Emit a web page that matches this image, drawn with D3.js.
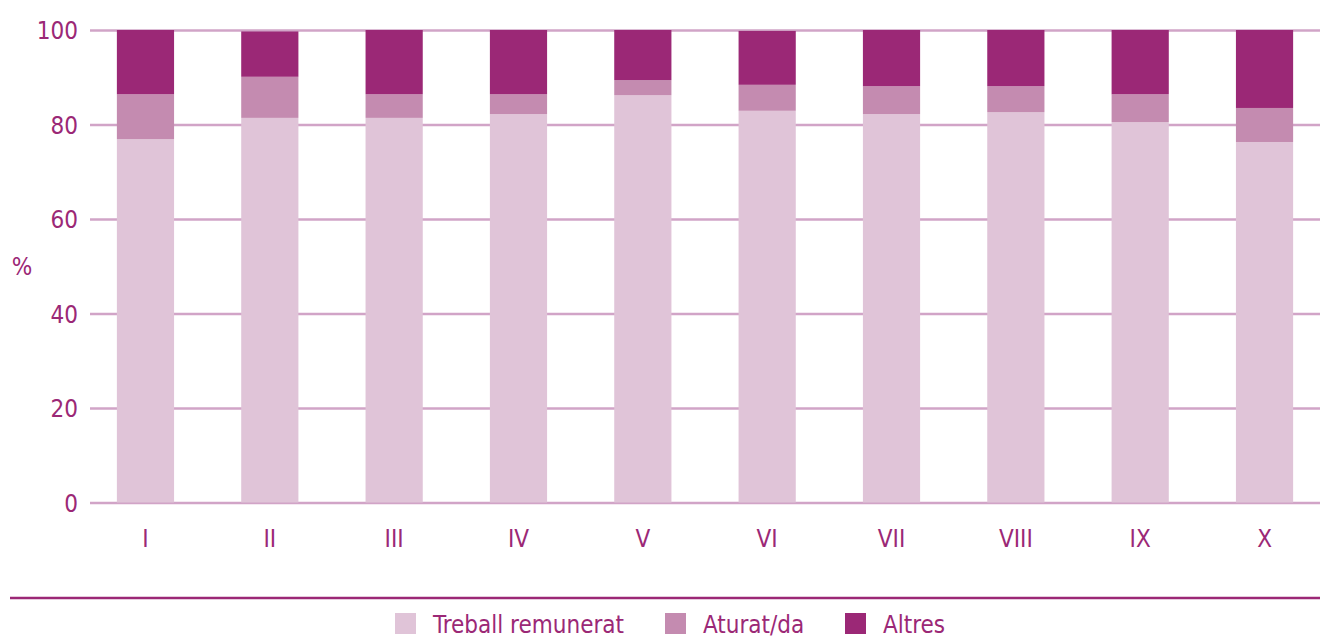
<!DOCTYPE html>
<html>
<head>
<meta charset="utf-8">
<script src="https://cdn.jsdelivr.net/npm/d3@7"></script>
<style>
  body { margin: 0; background: #fff; }
  svg text { font-family: "Liberation Sans Narrow", "DejaVu Sans Condensed", "Roboto", sans-serif; }
</style>
</head>
<body>
<div id="d3-container"></div>
<script>
// categories (deciles) and series values
const categories = ['I', 'II', 'III', 'IV', 'V', 'VI', 'VII', 'VIII', 'IX', 'X'];
const treball = [76.9, 81.4, 81.4, 82.2, 86.2, 82.9, 82.2, 82.6, 80.5, 76.3];
const aturat  = [9.5, 8.7, 5.0, 4.2, 3.2, 5.5, 5.9, 5.5, 5.9, 7.2];
const altres  = [13.6, 9.6, 13.6, 13.6, 10.6, 11.4, 11.9, 11.9, 13.6, 16.5];
const seriesNames = ['Treball remunerat', 'Aturat/da', 'Altres'];
const yTicks = [0, 20, 40, 60, 80, 100];

function drawChart() {
    const width = 1320;
    const height = 641;
    const textColor = '#9b2876';
    const gridColor = '#d1a4c7';
    const colors = ['#e0c4d8', '#c48bb0', '#9b2876'];
    const fontSize = '24px';

    const svg = d3.select('#d3-container')
        .append('svg')
        .attr('width', width)
        .attr('height', height);

    // build rows for the stack
    const rows = categories.map((c, i) => ({
        cat: c,
        'Treball remunerat': treball[i],
        'Aturat/da': aturat[i],
        'Altres': altres[i]
    }));
    const stacked = d3.stack().keys(seriesNames)(rows);

    // x scale
    const x = d3.scaleBand()
        .domain(categories)
        .range([83.3, 1326.7])
        .paddingInner(0.54)
        .paddingOuter(0.27);

    // y scale
    const y = d3.scaleLinear()
        .domain([0, 100])
        .range([502.5, 30]);

    // grid lines + tick labels
    const yAxis = svg.append('g')
        .attr('transform', 'translate(90,0)')
        .call(d3.axisLeft(y).tickValues(yTicks).tickSize(-(width - 90)).tickPadding(12));
    yAxis.select('.domain').remove();
    yAxis.selectAll('line')
        .attr('stroke', gridColor)
        .attr('stroke-width', 2.5);
    yAxis.selectAll('text')
        .attr('fill', textColor)
        .attr('font-size', fontSize)
        .attr('dy', '0.36em');

    // bars
    svg.append('g')
        .selectAll('g')
        .data(stacked)
        .join('g')
        .attr('fill', (d, i) => colors[i])
        .selectAll('rect')
        .data(d => d)
        .join('rect')
        .attr('x', d => x(d.data.cat))
        .attr('y', d => y(d[1]))
        .attr('height', d => y(d[0]) - y(d[1]))
        .attr('width', x.bandwidth());

    // x axis labels
    const xAxis = svg.append('g')
        .attr('transform', 'translate(0,503)')
        .call(d3.axisBottom(x).tickSize(0).tickPadding(27));
    xAxis.select('.domain').remove();
    xAxis.selectAll('text')
        .attr('fill', textColor)
        .attr('font-size', fontSize);

    // % label
    svg.append('text')
        .attr('x', 22)
        .attr('y', 266)
        .attr('dy', '0.36em')
        .attr('text-anchor', 'middle')
        .attr('fill', textColor)
        .attr('font-size', fontSize)
        .text('%');

    // separator line above legend
    svg.append('line')
        .attr('x1', 10).attr('x2', width)
        .attr('y1', 598).attr('y2', 598)
        .attr('stroke', textColor)
        .attr('stroke-width', 2.5);

    // legend
    const legendX = [395, 665, 845];
    const legend = svg.append('g')
        .selectAll('g')
        .data(seriesNames)
        .join('g')
        .attr('transform', (d, i) => `translate(${legendX[i]},613)`);
    legend.append('rect')
        .attr('width', 21)
        .attr('height', 21)
        .attr('fill', (d, i) => colors[i]);
    legend.append('text')
        .attr('x', 38)
        .attr('y', 20)
        .attr('fill', textColor)
        .attr('font-size', fontSize)
        .text(d => d);
}

drawChart();
</script>
</body>
</html>
